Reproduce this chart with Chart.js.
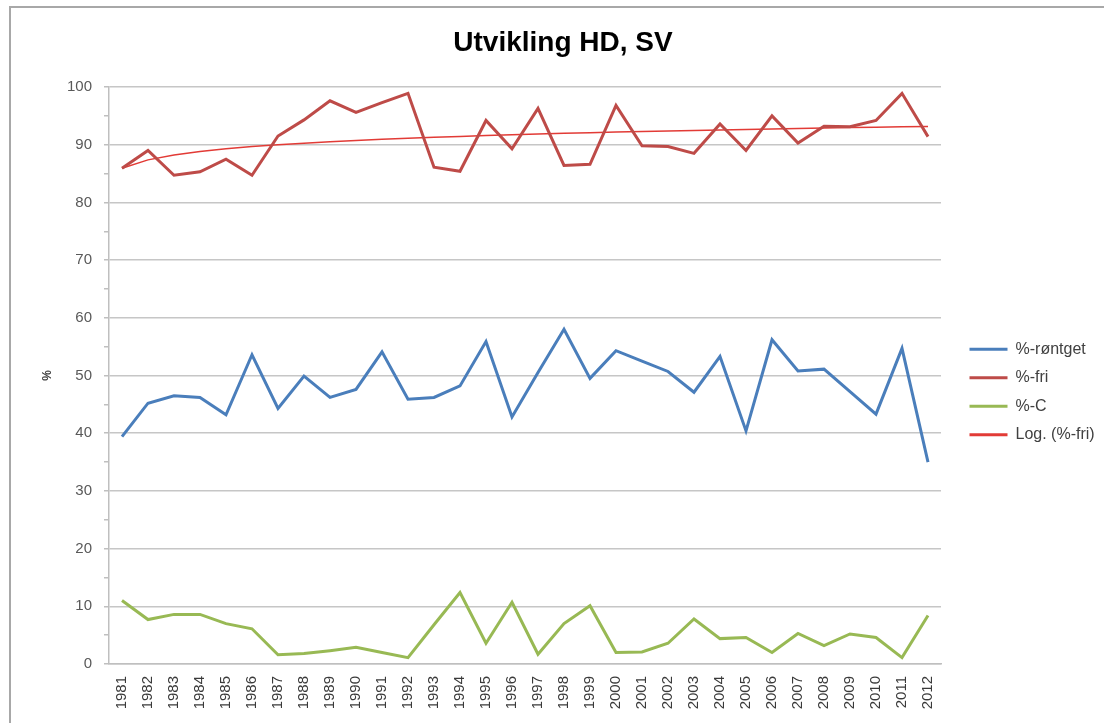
<!DOCTYPE html>
<html>
<head>
<meta charset="utf-8">
<script src="https://cdn.jsdelivr.net/npm/chart.js@4.4.1/dist/chart.umd.min.js"></script>
<style>
  html, body { margin: 0; padding: 0; background: #ffffff; }
  #wrap { width: 1104px; height: 723px; position: relative; }
</style>
</head>
<body>
<div id="wrap"><canvas id="c" width="1104" height="723"></canvas></div>
<script>
const years = ['1981','1982','1983','1984','1985','1986','1987','1988','1989','1990','1991','1992','1993','1994','1995','1996','1997','1998','1999','2000','2001','2002','2003','2004','2005','2006','2007','2008','2009','2010','2011','2012'];
const rontget = [39.4,45.2,46.5,46.2,43.2,53.6,44.3,49.9,46.2,47.6,54.1,45.9,46.2,48.2,55.9,42.8,50.5,58.0,49.5,54.3,52.5,50.7,47.1,53.3,40.4,56.2,50.8,51.1,47.2,43.3,54.7,35.0];
const fri = [85.9,89.0,84.7,85.3,87.5,84.7,91.5,94.3,97.6,95.6,97.3,98.9,86.1,85.4,94.2,89.3,96.3,86.4,86.6,96.8,89.8,89.7,88.5,93.6,89.0,95.0,90.3,93.2,93.1,94.2,98.9,91.4];
const prosentC = [11.0,7.7,8.6,8.6,7.0,6.1,1.6,1.8,2.3,2.9,2.0,1.1,6.8,12.4,3.6,10.7,1.7,7.0,10.1,2.0,2.1,3.6,7.8,4.4,4.6,2.0,5.3,3.2,5.2,4.6,1.1,8.4];
const seriesNames = ['%-røntget','%-fri','%-C','Log. (%-fri)'];
const yTicksMajor = [0,10,20,30,40,50,60,70,80,90,100];

// Logarithmic trend line (least squares fit of fri against ln(index)), as the spreadsheet does
function logTrend(vals) {
  const n = vals.length;
  let sx = 0, sy = 0, sxx = 0, sxy = 0;
  for (let i = 0; i < n; i++) {
    const lx = Math.log(i + 1);
    sx += lx; sy += vals[i]; sxx += lx * lx; sxy += lx * vals[i];
  }
  const b = (n * sxy - sx * sy) / (n * sxx - sx * sx);
  const a = (sy - b * sx) / n;
  return vals.map((_, i) => a + b * Math.log(i + 1));
}
const friTrend = logTrend(fri);

const frame = {
  id: 'frame',
  beforeDraw(chart) {
    const ctx = chart.ctx;
    ctx.save();
    ctx.fillStyle = '#ffffff';
    ctx.fillRect(0, 0, chart.width, chart.height);
    ctx.strokeStyle = '#a8a8a8';
    ctx.lineWidth = 2;
    ctx.beginPath();
    ctx.moveTo(10, chart.height);
    ctx.lineTo(10, 7);
    ctx.lineTo(chart.width, 7);
    ctx.stroke();
    ctx.restore();
  }
};

const legendFix = {
  id: 'legendFix',
  beforeInit(chart) {
    const lg = chart.legend;
    if (lg && !lg._patched) {
      const f = lg.fit;
      lg.fit = function () { f.call(this); this.width = 163; };
      lg._patched = true;
    }
  },
  afterLayout(chart) {
    const lg = chart.legend;
    if (lg) {
      lg.left += 16; lg.right += 16;
      lg.top += 30.5; lg.bottom += 30.5;
    }
  }
};

const colors = ['#4a7ebb', '#be4b48', '#98b954', '#e23b36'];

new Chart(document.getElementById('c'), {
  type: 'line',
  data: {
    labels: years,
    datasets: [
      { label: seriesNames[0], data: rontget, borderColor: colors[0], backgroundColor: colors[0], borderWidth: 3 },
      { label: seriesNames[1], data: fri, borderColor: colors[1], backgroundColor: colors[1], borderWidth: 3 },
      { label: seriesNames[2], data: prosentC, borderColor: colors[2], backgroundColor: colors[2], borderWidth: 3 },
      { label: seriesNames[3], data: friTrend, borderColor: colors[3], backgroundColor: colors[3], borderWidth: 1.5 }
    ]
  },
  options: {
    responsive: false,
    animation: false,
    devicePixelRatio: 1,
    layout: { padding: { left: 22, right: 0, top: 0, bottom: 0 } },
    elements: { point: { radius: 0 }, line: { tension: 0 } },
    plugins: {
      tooltip: { enabled: false },
      title: {
        display: true,
        text: 'Utvikling HD, SV',
        font: { family: 'Liberation Sans', size: 28, weight: 'bold' },
        color: '#000000',
        padding: { top: 26, bottom: 27.4 }
      },
      legend: {
        display: true,
        position: 'right',
        align: 'center',
        labels: {
          font: { family: 'Liberation Sans', size: 16 },
          color: '#404040',
          boxWidth: 38,
          boxHeight: 3,
          padding: 12.5,
          generateLabels(chart) {
            return chart.data.datasets.map((ds, i) => ({
              text: ds.label,
              fillStyle: ds.borderColor,
              strokeStyle: ds.borderColor,
              lineWidth: 0,
              hidden: false,
              datasetIndex: i,
              fontColor: '#404040'
            }));
          }
        }
      }
    },
    scales: {
      x: {
        offset: true,
        grid: { display: true, drawOnChartArea: false, drawTicks: false },
        border: { display: true, color: '#bfbfbf', width: 1.5 },
        ticks: {
          autoSkip: false,
          maxRotation: 90,
          minRotation: 90,
          padding: 12,
          color: '#3a3a3a',
          font: { family: 'Liberation Sans', size: 15 }
        },
        afterFit(scale) { scale.height = 59; }
      },
      y: {
        min: 0,
        max: 100,
        ticks: {
          stepSize: 5,
          padding: 12,
          color: '#595959',
          font: { family: 'Liberation Sans', size: 15 },
          callback: (v) => (yTicksMajor.includes(v) ? String(v) : '')
        },
        grid: {
          color: (ctx) => (ctx.tick && ctx.tick.value % 10 === 0 ? '#c6c6c6' : 'rgba(0,0,0,0)'),
          lineWidth: 1.5,
          tickColor: '#bfbfbf',
          tickLength: 5
        },
        border: { display: true, color: '#bfbfbf', width: 1.5 },
        title: {
          display: true,
          text: '%',
          color: '#404040',
          font: { family: 'Liberation Sans', size: 12, weight: 'bold' },
          padding: { top: 18, bottom: 0 }
        },
        afterFit(scale) { scale.width = 87; }
      }
    }
  },
  plugins: [frame, legendFix]
});
</script>
</body>
</html>
